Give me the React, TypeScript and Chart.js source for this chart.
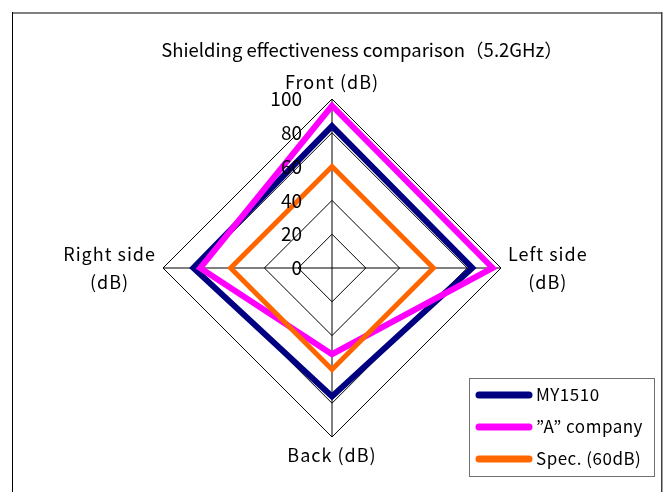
import React, { useEffect, useRef } from "react";
import { Chart, registerables } from "chart.js";

Chart.register(...registerables);

const chartTitle = "Shielding effectiveness comparison（5.2GHz）";
const categories: string[][] = [["Front (dB)"], ["Left side", "(dB)"], ["Back (dB)"], ["Right side", "(dB)"]];
const seriesNames = ["MY1510", "”A” company", "Spec. (60dB)"];
const my1510 = [84, 83, 76, 82];
const companyA = [96, 95, 51, 78];
const spec60 = [60, 60, 60, 60];
const tickValues = [0, 20, 40, 60, 80, 100];

const FONT = '"Noto Sans CJK JP", "Noto Sans", sans-serif';

const overlay = {
  id: "overlay",
  afterDatasetsDraw(chart: any) {
    const ctx: any = chart.ctx;
    const r = chart.scales.r;
    ctx.save();
    // tick labels
    ctx.fillStyle = "#000";
    ctx.font = `19px ${FONT}`;
    ctx.textAlign = "right";
    ctx.textBaseline = "middle";
    r.ticks.forEach((t: any) => {
      const d = r.getDistanceFromCenterForValue(t.value);
      ctx.fillText(String(t.value), r.xCenter - 30, r.yCenter - d);
    });
    // point labels
    ctx.font = `18px ${FONT}`;
    ctx.letterSpacing = "1px";
    ctx.textAlign = "center";
    const labels: string[][] = chart.data.labels;
    labels.forEach((lines, i) => {
      const p = r.getPointPosition(i, r.drawingArea);
      const widths = lines.map((l) => ctx.measureText(l).width);
      const W = Math.max(...widths);
      const lh = 28;
      const H = lines.length * lh;
      let cx = p.x;
      let top = p.y - H / 2;
      const dx = p.x - r.xCenter;
      const dy = p.y - r.yCenter;
      if (Math.abs(dx) < 1) {
        top = dy < 0 ? p.y - 17 - lh / 2 : p.y + 18 - lh / 2;
      } else if (dx > 0) {
        cx = p.x + 7 + W / 2;
      } else {
        cx = p.x - 7 - W / 2;
      }
      lines.forEach((l, k) => {
        ctx.fillText(l, cx, top + lh / 2 + k * lh);
      });
    });
    ctx.restore();
  },
  afterDraw(chart: any) {
    const ctx: any = chart.ctx;
    ctx.save();
    // outer frame
    ctx.fillStyle = "#808080";
    ctx.fillRect(12, 12, 651, 2);
    ctx.fillStyle = "#000";
    ctx.fillRect(12, 12, 1, 480);
    ctx.fillStyle = "#404040";
    ctx.fillRect(661, 12, 1, 480);
    ctx.fillStyle = "#a0a0a0";
    ctx.fillRect(662, 12, 1, 480);
    // title
    ctx.fillStyle = "#000";
    ctx.font = `18.5px ${FONT}`;
    ctx.textAlign = "center";
    ctx.textBaseline = "middle";
    ctx.fillText(chartTitle, 362, 50);
    // legend
    ctx.strokeStyle = "#707070";
    ctx.lineWidth = 1;
    ctx.strokeRect(469.5, 378.5, 185, 98);
    ctx.font = `17px ${FONT}`;
    ctx.letterSpacing = "0.5px";
    ctx.textAlign = "left";
    chart.data.datasets.forEach((ds: any, i: number) => {
      const y = 395 + i * 32;
      ctx.strokeStyle = ds.borderColor;
      ctx.lineWidth = 7;
      ctx.lineCap = "round";
      ctx.beginPath();
      ctx.moveTo(479, y);
      ctx.lineTo(529, y);
      ctx.stroke();
      ctx.fillStyle = "#000";
      ctx.fillText(ds.label, 536, y);
    });
    ctx.restore();
  },
};

export default function App() {
  const ref = useRef<HTMLCanvasElement>(null);
  useEffect(() => {
    if (!ref.current) return;
    const chart = new Chart(ref.current, {
      type: "radar",
      data: {
        labels: categories as any,
        datasets: [
          { label: seriesNames[0], data: my1510, borderColor: "#000080", borderWidth: 6, order: 3 },
          { label: seriesNames[1], data: companyA, borderColor: "#FF00FF", borderWidth: 6, order: 2 },
          { label: seriesNames[2], data: spec60, borderColor: "#FF6600", borderWidth: 5, order: 1 },
        ].map((d) => ({
          ...d,
          backgroundColor: "transparent",
          fill: false,
          pointRadius: 0,
          pointHoverRadius: 0,
          borderJoinStyle: "miter" as const,
        })),
      },
      options: {
        responsive: false,
        animation: false,
        layout: { padding: { left: 163, right: 163, top: 99, bottom: 55 } },
        plugins: {
          legend: { display: false },
          tooltip: { enabled: false },
          title: { display: false },
        },
        scales: {
          r: {
            min: tickValues[0],
            max: tickValues[tickValues.length - 1],
            beginAtZero: true,
            ticks: { stepSize: tickValues[1] - tickValues[0], display: false },
            grid: { color: "#000", lineWidth: 1 },
            angleLines: { color: "#000", lineWidth: 1 },
            pointLabels: { display: false },
          },
        },
      },
      plugins: [overlay],
    });
    return () => chart.destroy();
  }, []);
  return (
    <div style={{ position: "fixed", left: 0, top: 0, width: 664, height: 492, background: "#fff" }}>
      <canvas ref={ref} width={664} height={492} />
    </div>
  );
}
